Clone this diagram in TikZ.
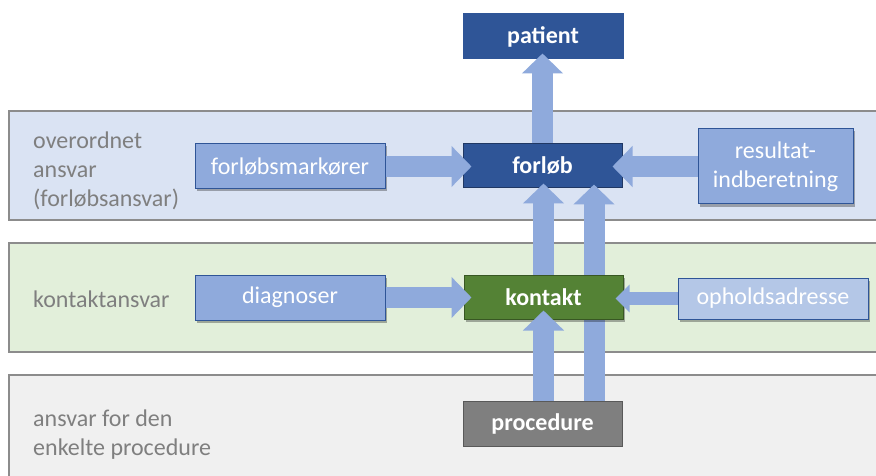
\documentclass[tikz,border=0pt]{standalone}
\usepackage{fontspec}
\setmainfont{Carlito}
\usetikzlibrary{arrows.meta,shadows}
\definecolor{bandblue}{HTML}{DAE3F3}
\definecolor{bandgreen}{HTML}{E2EFDA}
\definecolor{bandgray}{HTML}{F0F0F0}
\definecolor{bandline}{HTML}{8C8C8C}
\definecolor{labelgray}{HTML}{7F7F7F}
\definecolor{darkblue}{HTML}{2F5597}
\definecolor{darkblueline}{HTML}{203864}
\definecolor{midblue}{HTML}{8FAADC}
\definecolor{lightblue}{HTML}{B4C7E7}
\definecolor{kgreen}{HTML}{548235}
\definecolor{kgreenline}{HTML}{385723}
\definecolor{pgray}{HTML}{7F7F7F}
\definecolor{pgrayline}{HTML}{595959}
\begin{document}
\begin{tikzpicture}[x=1pt,y=-1pt,
  band/.style={draw=bandline, line width=1.5pt},
  bandlabel/.style={align=left, text=labelgray, font=\fontsize{24}{29}\selectfont, inner sep=0pt},
  mainbox/.style={minimum width=159pt, minimum height=45pt, inner sep=0pt, text=white,
    font=\fontsize{24}{29}\selectfont\bfseries, line width=1pt},
  infobox/.style={fill=midblue, draw=darkblue, line width=1pt, text=white,
    font=\fontsize{24}{29}\selectfont, align=center, inner sep=0pt,
    drop shadow={shadow xshift=2pt, shadow yshift=-2.5pt, opacity=0.3, fill=black}},
  barrow/.style={draw=midblue, line width=21pt, -{Triangle[width=40pt,length=20pt]}},
  sarrow/.style={draw=midblue, line width=13pt, -{Triangle[width=27pt,length=14pt]}},
]
\clip (0,0) rectangle (876,476);
\fill[white] (0,0) rectangle (876,476);
% bands
\path[band, fill=bandblue] (9,111) rectangle (890,220);
\path[band, fill=bandgreen] (9,243) rectangle (890,352);
\path[band, fill=bandgray] (9,375) rectangle (890,490);
% band labels
\node[bandlabel, anchor=west] (lab1) at (33,171) {overordnet\\ansvar\\(forløbsansvar)};
\node[bandlabel, anchor=base west] (lab2) at (33,307) {kontaktansvar};
\node[bandlabel, anchor=west] (lab3) at (33,435) {ansvar for den\\enkelte procedure};
% main boxes
\node[mainbox, fill=darkblue, draw=darkblue, minimum width=160pt] (patient) at (543,36.5) {patient};
\node[mainbox, fill=darkblue, draw=darkblueline, minimum height=44pt] (forlob) at (542.5,166) {forløb};
\node[mainbox, fill=pgray, draw=pgrayline] (proc) at (542.5,423.5) {procedure};
% long arrow behind kontakt
\draw[barrow, shorten >=-4pt] ([xshift=51.5pt]proc.north) -- ([xshift=51.5pt]proc.north |- forlob.south);
\node[mainbox, fill=kgreen, draw=kgreenline, minimum height=44pt,
  drop shadow={shadow xshift=2pt, shadow yshift=-2.5pt, opacity=0.3, fill=black}] (kontakt) at (543.5,297) {kontakt};
% info boxes
\node[infobox, minimum width=190pt, minimum height=45pt] (fm) at (290,166.5) {forløbsmarkører};
\node[infobox, minimum width=190pt, minimum height=45pt] (diag) at (290,297.5) {diagnoser};
\node[infobox, minimum width=155pt, minimum height=75pt] (res) at (775.5,166.5) {resultat-\\indberetning};
\node[infobox, fill=lightblue, minimum width=190pt, minimum height=41pt] (ophold) at (773,298.5) {opholdsadresse};
% arrows
\draw[barrow, shorten >=-6pt] (forlob.north) -- (forlob.north |- patient.south);
\draw[barrow, shorten >=-5pt] (kontakt.north) -- (kontakt.north |- forlob.south);
\draw[barrow, shorten >=-9pt] ([xshift=1pt]proc.north) -- ([xshift=1pt]proc.north |- kontakt.south);
\draw[barrow, shorten >=-9pt] (fm.east) -- (fm.east -| forlob.west);
\draw[barrow, shorten >=-10pt] (res.west) -- (res.west -| forlob.east);
\draw[barrow, shorten >=-8pt] (diag.east) -- (diag.east -| kontakt.west);
\draw[sarrow, shorten >=-8pt] (ophold.west) -- (ophold.west -| kontakt.east);
\end{tikzpicture}
\end{document}
